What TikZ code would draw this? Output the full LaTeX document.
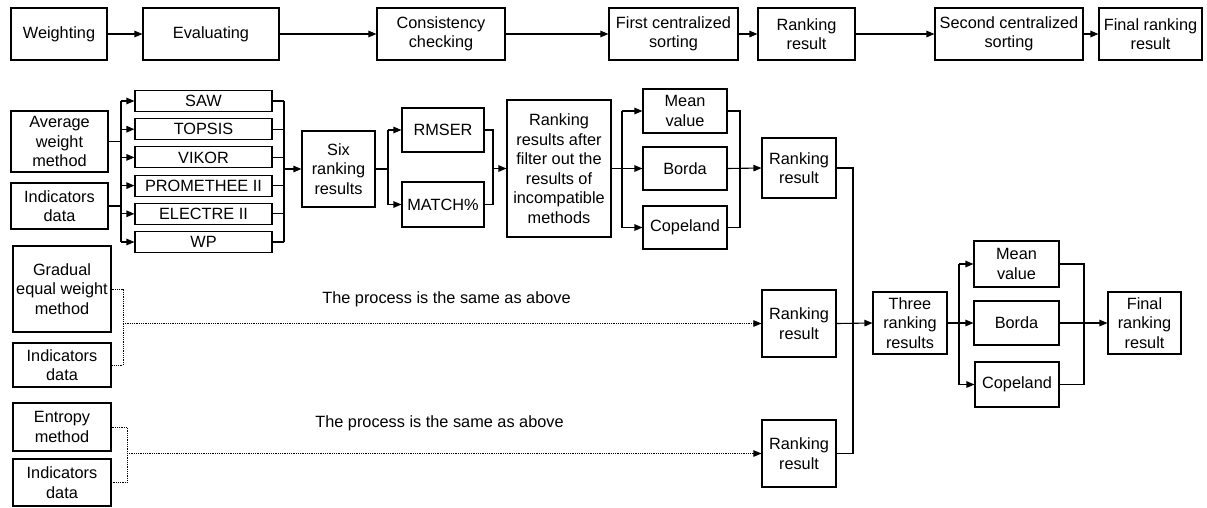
\documentclass[tikz,border=0pt]{standalone}
\usepackage{fontspec}
\setmainfont{Liberation Sans}
\usepackage{tikz}
\usetikzlibrary{arrows.meta}

\begin{document}
\begin{tikzpicture}[
  x=1pt, y=-1pt,
  box/.style={draw, line width=1.1pt, align=center, inner sep=0pt,
    font=\fontsize{16.3}{19.5}\selectfont},
  line/.style={line width=1.1pt},
  arr/.style={line width=1.1pt, -{Triangle[length=8pt,width=6.5pt]}},
  dotarr/.style={line width=0.8pt, densely dotted, -{Triangle[length=8pt,width=6.5pt]}},
  dotline/.style={line width=0.8pt, densely dotted},
]
  \useasboundingbox (0,0) rectangle (1207,507);

  % Top row
  \node[box, minimum width=96, minimum height=52] (wgt) at (59,34) {Weighting};
  \node[box, minimum width=136, minimum height=52] (evl) at (211,34) {Evaluating};
  \node[box, minimum width=128, minimum height=52] (cons) at (441,34) {Consistency\\checking};
  \node[box, minimum width=129, minimum height=52] (first) at (673.5,34) {First centralized\\sorting};
  \node[box, minimum width=97, minimum height=52] (rank) at (806.5,34) {Ranking\\result};
  \node[box, minimum width=148, minimum height=52] (second) at (1009,34) {Second centralized\\sorting};
  \node[box, minimum width=103, minimum height=52] (final) at (1150.5,34) {Final ranking\\result};

  \draw[arr] (wgt) -- (evl);
  \draw[arr] (evl) -- (cons);
  \draw[arr] (cons) -- (first);
  \draw[arr] (first) -- (rank);
  \draw[arr] (rank) -- (second);
  \draw[arr] (second) -- (final);

  % Average weight method branch
  \node[box, minimum width=97, minimum height=61] (avg) at (59.5,141.5) {Average\\weight\\method};
  \node[box, minimum width=97, minimum height=46] (ind1) at (59.5,206) {Indicators\\data};

  \foreach \m/\lab/\y in {saw/SAW/101, topsis/TOPSIS/129.2, vikor/VIKOR/157.4,
      prom/PROMETHEE II/185.6, electre/ELECTRE II/213.8, wp/WP/242} {
    \node[box, minimum width=137, minimum height=21] (\m) at (203.5,\y) {\lab};
  }

  \coordinate (split1) at (121,0);
  \coordinate (merge1) at (284,0);
  \draw[line] (avg.east) -- (avg.east -| split1);
  \draw[line] (ind1.east) -- (ind1.east -| split1);
  \draw[line] (split1 |- saw.west) -- (split1 |- wp.west);
  \draw[line] (merge1 |- saw.east) -- (merge1 |- wp.east);
  \foreach \m in {saw, topsis, vikor, prom, electre, wp} {
    \draw[arr] (split1 |- \m.west) -- (\m.west);
    \draw[line] (\m.east) -- (merge1 |- \m.east);
  }

  \node[box, minimum width=73, minimum height=76] (six) at (338.5,169) {Six\\ranking\\results};
  \draw[arr] (merge1 |- six.west) -- (six.west);

  % Compatibility test
  \node[box, minimum width=82, minimum height=44] (rmser) at (443,130) {RMSER};
  \node[box, minimum width=82, minimum height=45] (match) at (443,204.5) {MATCH\%};
  \coordinate (split2) at (388,0);
  \coordinate (merge2) at (493,0);
  \draw[line] (six.east) -- (six.east -| split2);
  \draw[line] (split2 |- rmser.west) -- (split2 |- match.west);
  \draw[arr] (split2 |- rmser.west) -- (rmser.west);
  \draw[arr] (split2 |- match.west) -- (match.west);
  \draw[line] (rmser.east) -| (merge2 |- match.east) -- (match.east);

  \node[box, minimum width=104, minimum height=137] (filt) at (559,168.5)
    {Ranking\\results after\\filter out the\\results of\\incompatible\\methods};
  \draw[arr] (merge2 |- filt.west) -- (filt.west);

  % First centralized sorting
  \node[box, minimum width=84, minimum height=44] (mean1) at (685,111) {Mean\\value};
  \node[box, minimum width=84, minimum height=43] (borda1) at (685,168.5) {Borda};
  \node[box, minimum width=84, minimum height=43] (cope1) at (685,227.5) {Copeland};
  \coordinate (split3) at (622,0);
  \coordinate (merge3) at (740,0);
  \draw[line] (split3 |- mean1.west) -- (split3 |- cope1.west);
  \draw[arr] (filt.east) -- (borda1.west);
  \draw[arr] (split3 |- mean1.west) -- (mean1.west);
  \draw[arr] (split3 |- cope1.west) -- (cope1.west);
  \draw[line] (mean1.east) -| (merge3 |- cope1.east) -- (cope1.east);

  \node[box, minimum width=74, minimum height=60] (rr1) at (799,168) {Ranking\\result};
  \draw[arr] (borda1.east) -- (rr1.west);

  % Other weighting methods
  \node[box, minimum width=98, minimum height=86] (grad) at (62,289) {Gradual\\equal weight\\method};
  \node[box, minimum width=98, minimum height=44] (ind2) at (62,365) {Indicators\\data};
  \node[box, minimum width=98, minimum height=48] (ent) at (62,427) {Entropy\\method};
  \node[box, minimum width=98, minimum height=47] (ind3) at (62,482.5) {Indicators\\data};

  \node[box, minimum width=74, minimum height=67] (rr2) at (799,323.5) {Ranking\\result};
  \node[box, minimum width=74, minimum height=67] (rr3) at (799,453.5) {Ranking\\result};

  \coordinate (dot1) at (123,0);
  \coordinate (dot2) at (127,0);
  \draw[dotline] (grad.east) -| (dot1 |- ind2.east) -- (ind2.east);
  \draw[dotarr] (dot1 |- rr2.west) -- (rr2.west);
  \draw[dotline] (ent.east) -| (dot2 |- ind3.east) -- (ind3.east);
  \draw[dotarr] (dot2 |- rr3.west) -- (rr3.west);

  \node[font=\fontsize{16.3}{19.5}\selectfont] (same1) at (446.5,299) {The process is the same as above};
  \node[font=\fontsize{16.3}{19.5}\selectfont] (same2) at (439.5,423) {The process is the same as above};

  % Second centralized sorting
  \coordinate (join) at (853,0);
  \draw[line] (rr1.east) -| (join |- rr3.east) -- (rr3.east);
  \node[box, minimum width=74, minimum height=62] (three) at (910,323) {Three\\ranking\\results};
  \draw[arr] (rr2.east) -- (three.west);

  \node[box, minimum width=85, minimum height=46] (mean2) at (1016.5,264) {Mean\\value};
  \node[box, minimum width=85, minimum height=44] (borda2) at (1016.5,323) {Borda};
  \node[box, minimum width=84, minimum height=45] (cope2) at (1017,384.5) {Copeland};
  \coordinate (split4) at (959,0);
  \coordinate (merge4) at (1084,0);
  \draw[line] (split4 |- mean2.west) -- (split4 |- cope2.west);
  \draw[arr] (three.east) -- (borda2.west);
  \draw[arr] (split4 |- mean2.west) -- (mean2.west);
  \draw[arr] (split4 |- cope2.west) -- (cope2.west);
  \draw[line] (mean2.east) -| (merge4 |- cope2.east) -- (cope2.east);

  \node[box, minimum width=73, minimum height=62] (fin2) at (1144.5,323) {Final\\ranking\\result};
  \draw[arr] (borda2.east) -- (fin2.west);

\end{tikzpicture}
\end{document}
